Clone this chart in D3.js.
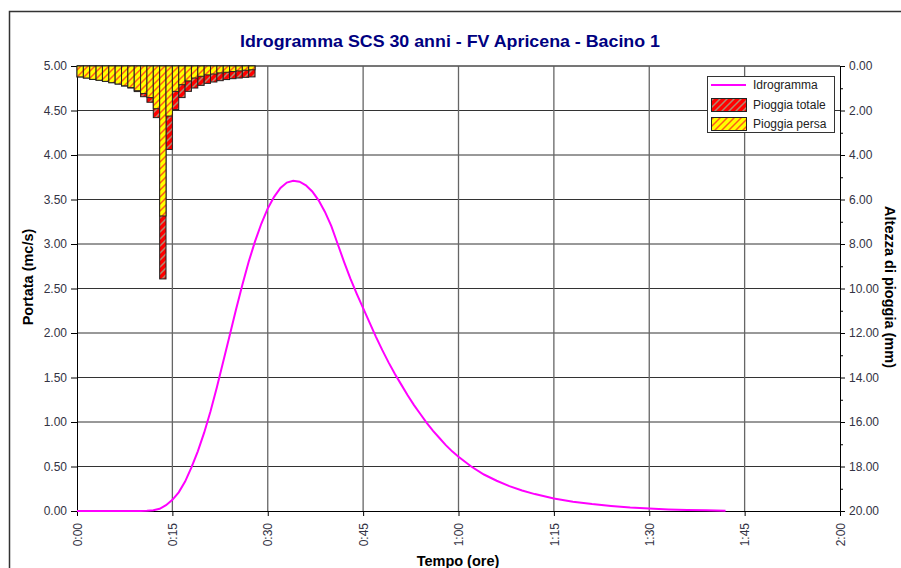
<!DOCTYPE html>
<html lang="it">
<head>
    <meta charset="UTF-8">
    <title>Idrogramma SCS 30 anni</title>
    <script src="https://d3js.org/d3.v7.min.js"></script>
    <style>
        body {
            margin: 0;
            background: #fff;
        }

        svg {
            display: block;
            font-family: "Liberation Sans", Arial, sans-serif;
        }

        .axis text {
            font-size: 12px;
            fill: #333344;
        }

        .axis path,
        .axis line {
            stroke: #000;
        }

        .atitle {
            font-weight: bold;
            font-size: 14.5px;
            fill: #000;
        }

        .legend text {
            font-size: 12px;
            fill: #222;
        }
    </style>
</head>
<body>
    <svg></svg>
    <script>
        // time ticks (minutes) and value ticks
        const timeTicks = [0, 15, 30, 45, 60, 75, 90, 105, 120];
        const qTicks = [0, 0.5, 1, 1.5, 2, 2.5, 3, 3.5, 4, 4.5, 5];
        const rainTicks = [0, 2, 4, 6, 8, 10, 12, 14, 16, 18, 20];
        const rainMinorTicks = [1, 3, 5, 7, 9, 11, 13, 15, 17, 19];

        // hyetograph, one bar per minute (mm)
        const rainMin = [0, 1, 2, 3, 4, 5, 6, 7, 8, 9, 10, 11, 12, 13, 14, 15, 16, 17, 18, 19, 20, 21, 22, 23, 24, 25, 26, 27];
        const rainTot = [0.49, 0.54, 0.60, 0.64, 0.69, 0.75, 0.81, 0.90, 0.99, 1.15, 1.38, 1.63, 2.32, 9.57, 3.75, 1.96, 1.42, 1.14, 0.99, 0.87, 0.78, 0.72, 0.66, 0.61, 0.57, 0.54, 0.51, 0.49];
        const rainLost = [0.49, 0.54, 0.60, 0.64, 0.69, 0.75, 0.81, 0.89, 0.97, 1.11, 1.24, 1.42, 1.92, 6.74, 2.25, 1.14, 0.84, 0.67, 0.54, 0.46, 0.40, 0.36, 0.31, 0.28, 0.25, 0.22, 0.19, 0.17];

        // hydrograph (minutes, mc/s)
        const hydroMin = [0, 5, 10, 11, 12, 13, 14, 15, 16, 17, 18, 19, 20, 21, 22, 23, 24, 25, 26, 27, 28, 29, 30, 31, 32, 33, 34, 35, 36, 37, 38, 39, 40, 41, 42, 43, 44, 45, 46, 47, 48, 49, 50, 51, 52, 53, 54, 55, 56, 57, 58, 59, 60, 62, 64, 66, 68, 70, 72, 75, 78, 81, 84, 87, 90, 93, 96, 99, 102];
        const hydroQ = [0, 0, 0, 0.002, 0.008, 0.025, 0.065, 0.125, 0.21, 0.33, 0.49, 0.67, 0.88, 1.12, 1.39, 1.68, 1.97, 2.26, 2.54, 2.80, 3.03, 3.23, 3.40, 3.53, 3.63, 3.69, 3.71, 3.70, 3.66, 3.59, 3.49, 3.36, 3.20, 3.00, 2.80, 2.61, 2.44, 2.28, 2.12, 1.96, 1.81, 1.67, 1.54, 1.42, 1.30, 1.19, 1.09, 0.99, 0.90, 0.82, 0.74, 0.67, 0.61, 0.50, 0.41, 0.34, 0.28, 0.23, 0.19, 0.14, 0.105, 0.078, 0.056, 0.038, 0.027, 0.018, 0.012, 0.008, 0.004];

        const width = 901;
        const height = 568;
        const plot = { left: 77, right: 840, top: 66, bottom: 511 };

        const svg = d3.select("svg")
            .attr("width", width)
            .attr("height", height);

        svg.append("rect")
            .attr("x", 9.5).attr("y", 11.5)
            .attr("width", 960).attr("height", 620)
            .attr("fill", "#fff")
            .attr("stroke", "#333")
            .attr("stroke-width", 1.5);

        const x = d3.scaleLinear().domain([0, 120]).range([plot.left, plot.right]);
        const yQ = d3.scaleLinear().domain([0, 5]).range([plot.bottom, plot.top]);
        const yR = d3.scaleLinear().domain([0, 20]).range([plot.top, plot.bottom]);

        // hatch patterns
        const defs = svg.append("defs");
        function hatch(id, bg, fg) {
            const p = defs.append("pattern")
                .attr("id", id)
                .attr("patternUnits", "userSpaceOnUse")
                .attr("width", 7)
                .attr("height", 7);
            p.append("rect").attr("width", 7).attr("height", 7).attr("fill", bg);
            p.append("path")
                .attr("d", "M0,7 L7,0 M-2,2 L2,-2 M5,9 L9,5")
                .attr("stroke", fg)
                .attr("stroke-width", 1.5);
        }
        hatch("hTot", "#ff0000", "#b08a70");
        hatch("hLost", "#ffff00", "#ff5a1a");

        // grid
        const grid = svg.append("g");
        grid.selectAll(".hg")
            .data(qTicks.slice(1))
            .enter().append("line")
            .attr("x1", plot.left).attr("x2", plot.right)
            .attr("y1", d => yQ(d)).attr("y2", d => yQ(d))
            .attr("stroke", "#333")
            .attr("stroke-width", 1);
        grid.selectAll(".vg")
            .data(timeTicks.slice(1, -1))
            .enter().append("line")
            .attr("x1", d => x(d)).attr("x2", d => x(d))
            .attr("y1", plot.top).attr("y2", plot.bottom)
            .attr("stroke", "#666")
            .attr("stroke-width", 1.3);

        // axes
        const fmtTime = m => `${Math.floor(m / 60)}:${String(m % 60).padStart(2, "0")}`;

        const xAxis = svg.append("g").attr("class", "axis")
            .attr("transform", `translate(0,${plot.bottom})`)
            .call(d3.axisBottom(x).tickValues(timeTicks).tickFormat(fmtTime).tickSize(5).tickSizeOuter(0));
        xAxis.selectAll("text")
            .attr("transform", "rotate(-90)")
            .attr("text-anchor", "end")
            .attr("x", -12)
            .attr("y", 0)
            .attr("dy", "0.35em");

        svg.append("g").attr("class", "axis")
            .attr("transform", `translate(${plot.left},0)`)
            .call(d3.axisLeft(yQ).tickValues(qTicks).tickFormat(d3.format(".2f")).tickSize(6).tickPadding(4).tickSizeOuter(0));

        svg.append("g").attr("class", "axis")
            .attr("transform", `translate(${plot.right},0)`)
            .call(d3.axisRight(yR).tickValues(rainTicks).tickFormat(d3.format(".2f")).tickSize(5).tickPadding(4).tickSizeOuter(0));

        svg.append("g").attr("class", "axis")
            .attr("transform", `translate(${plot.right},0)`)
            .call(d3.axisRight(yR).tickValues(rainMinorTicks).tickFormat("").tickSize(3).tickSizeOuter(0))
            .select(".domain").remove();

        // top border
        svg.append("line")
            .attr("x1", plot.left).attr("x2", plot.right)
            .attr("y1", plot.top).attr("y2", plot.top)
            .attr("stroke", "#555");

        // hyetograph bars
        const bars = svg.append("g");
        bars.selectAll(".tot")
            .data(rainMin)
            .enter().append("rect")
            .attr("x", (d, i) => x(d))
            .attr("y", yR(0))
            .attr("width", (d, i) => x(d + 1) - x(d))
            .attr("height", (d, i) => yR(rainTot[i]) - yR(0))
            .attr("fill", "url(#hTot)")
            .attr("stroke", "#222")
            .attr("stroke-width", 1);
        bars.selectAll(".lost")
            .data(rainMin)
            .enter().append("rect")
            .attr("x", (d, i) => x(d))
            .attr("y", yR(0))
            .attr("width", (d, i) => x(d + 1) - x(d))
            .attr("height", (d, i) => yR(rainLost[i]) - yR(0))
            .attr("fill", "url(#hLost)")
            .attr("stroke", "#222")
            .attr("stroke-width", 1);

        // hydrograph
        const hydro = hydroMin.map((m, i) => [m, hydroQ[i]]);
        svg.append("path")
            .datum(hydro)
            .attr("d", d3.line().x(d => x(d[0])).y(d => yQ(d[1])))
            .attr("fill", "none")
            .attr("stroke", "#ff00ff")
            .attr("stroke-width", 2);

        // titles
        svg.append("text")
            .attr("x", 450).attr("y", 47)
            .attr("text-anchor", "middle")
            .attr("font-size", 17)
            .attr("font-weight", "bold")
            .attr("fill", "#000080")
            .attr("textLength", 420)
            .attr("lengthAdjust", "spacingAndGlyphs")
            .text("Idrogramma SCS 30 anni - FV Apricena - Bacino 1");

        svg.append("text").attr("class", "atitle")
            .attr("x", 458).attr("y", 566)
            .attr("text-anchor", "middle")
            .text("Tempo (ore)");

        svg.append("text").attr("class", "atitle")
            .attr("transform", "translate(33,277) rotate(-90)")
            .attr("text-anchor", "middle")
            .text("Portata (mc/s)");

        svg.append("text").attr("class", "atitle")
            .attr("transform", "translate(885,287) rotate(90)")
            .attr("text-anchor", "middle")
            .text("Altezza di pioggia (mm)");

        // legend
        const legend = svg.append("g").attr("class", "legend");
        legend.append("rect")
            .attr("x", 707.5).attr("y", 76.5)
            .attr("width", 127).attr("height", 56)
            .attr("fill", "#fff")
            .attr("stroke", "#333");
        legend.append("line")
            .attr("x1", 711).attr("x2", 746)
            .attr("y1", 85).attr("y2", 85)
            .attr("stroke", "#ff00ff")
            .attr("stroke-width", 2);
        legend.append("text").attr("x", 753).attr("y", 85).attr("dy", "0.35em").text("Idrogramma");
        const items = [
            { name: "Pioggia totale", fill: "url(#hTot)" },
            { name: "Pioggia persa", fill: "url(#hLost)" }
        ];
        const li = legend.selectAll(".item")
            .data(items)
            .enter().append("g")
            .attr("transform", (d, i) => `translate(0,${98 + i * 19})`);
        li.append("rect")
            .attr("x", 711.5).attr("y", 0.5)
            .attr("width", 35).attr("height", 13)
            .attr("fill", d => d.fill)
            .attr("stroke", "#222");
        li.append("text")
            .attr("x", 753).attr("y", 7)
            .attr("dy", "0.35em")
            .text(d => d.name);
    </script>
</body>
</html>
